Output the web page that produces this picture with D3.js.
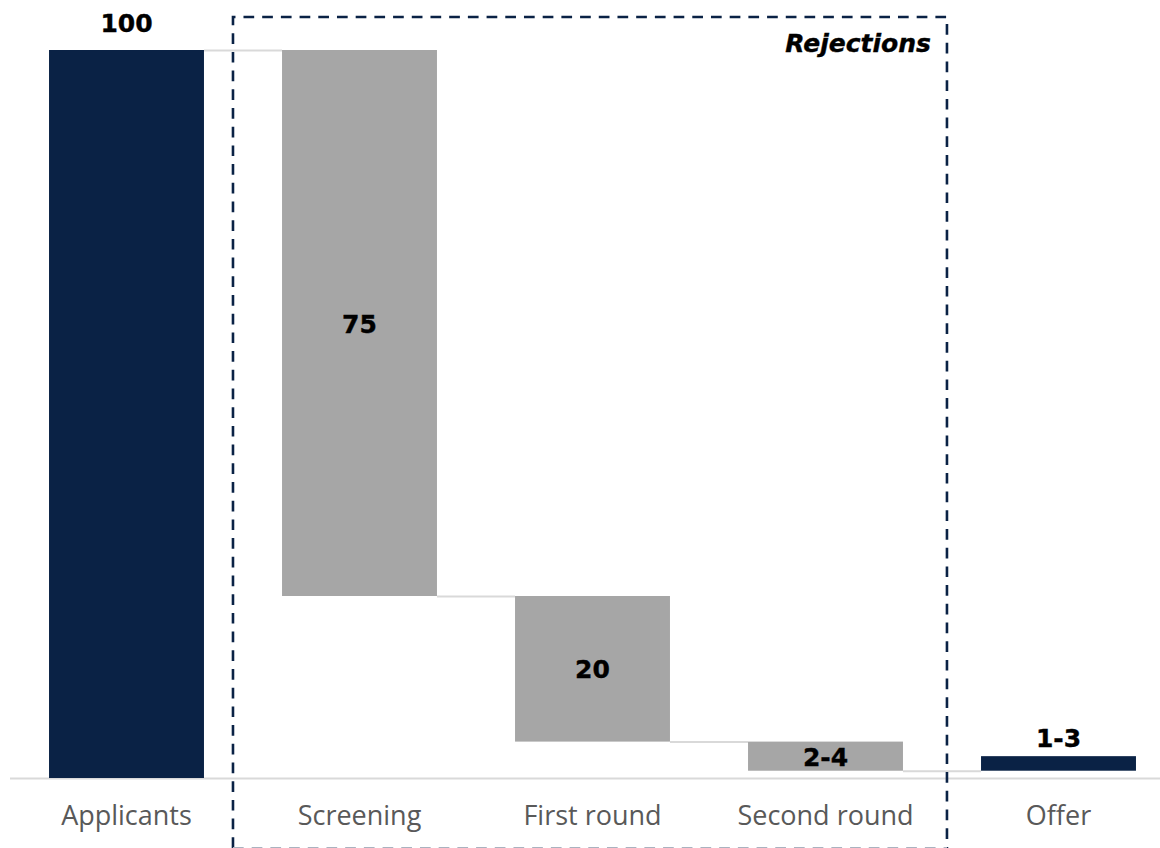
<!DOCTYPE html>
<html>
<head>
<meta charset="utf-8">
<script src="https://cdn.jsdelivr.net/npm/d3@7"></script>
<style>
  html, body { margin: 0; padding: 0; background: #fff; }
  svg { display: block; }
</style>
</head>
<body>
<svg id="chart" width="1160" height="848"></svg>
<script>
// ---- data ----
const categories = ["Applicants", "Screening", "First round", "Second round", "Offer"];
const lows   = [0, 25, 5, 1, 1];
const highs  = [100, 100, 25, 5, 3];
const labels = ["100", "75", "20", "2-4", "1-3"];
const kinds  = ["total", "rejection", "rejection", "rejection", "total"];
const groupTitle = "Rejections";

// ---- layout ----
const W = 1160, H = 848;
const svg = d3.select("#chart");
const navy = "#0a2245", grey = "#a6a6a6", light = "#d9d9d9";

const x = d3.scaleBand().domain(categories).range([10, 1175]).paddingInner(0.335).paddingOuter(0.1675);
const y = d3.scaleLinear().domain([0, 100]).range([778, 50]);

const data = categories.map((c, i) => ({ c, lo: lows[i], hi: highs[i], label: labels[i], kind: kinds[i] }));

// baseline axis
svg.append("line")
  .attr("x1", 10).attr("x2", W)
  .attr("y1", y(0) + 0.5).attr("y2", y(0) + 0.5)
  .attr("stroke", light).attr("stroke-width", 2);

// connectors
data.slice(0, -1).forEach((d, i) => {
  const lvl = d.kind === "rejection" ? d.lo : d.hi;
  svg.append("line")
    .attr("x1", x(d.c) + x.bandwidth()).attr("x2", x(categories[i + 1]))
    .attr("y1", y(lvl) + 0.5).attr("y2", y(lvl) + 0.5)
    .attr("stroke", light).attr("stroke-width", 2);
});

// bars
svg.selectAll("rect.bar").data(data).join("rect")
  .attr("class", "bar")
  .attr("x", d => x(d.c))
  .attr("width", x.bandwidth())
  .attr("y", d => y(d.hi))
  .attr("height", d => y(d.lo) - y(d.hi))
  .attr("fill", d => d.kind === "total" ? navy : grey);

// value labels
const numFont = "'DejaVu Sans', Verdana, sans-serif";
svg.selectAll("text.val").data(data).join("text")
  .attr("class", "val")
  .attr("x", d => x(d.c) + x.bandwidth() / 2)
  .attr("y", d => {
    if (d.kind === "total") return y(d.hi) - (d.hi > 50 ? 18 : 9);
    return (y(d.hi) + y(d.lo)) / 2 + 1;
  })
  .attr("dominant-baseline", d => d.kind === "total" ? "auto" : "central")
  .attr("text-anchor", "middle")
  .attr("font-family", numFont)
  .attr("font-weight", "bold")
  .attr("font-size", 25)
  .attr("fill", "#000")
  .attr("stroke", "#000").attr("stroke-width", 0.4)
  .text(d => d.label);

// category labels
svg.selectAll("text.cat").data(categories).join("text")
  .attr("class", "cat")
  .attr("x", d => x(d) + x.bandwidth() / 2)
  .attr("y", 825)
  .attr("text-anchor", "middle")
  .attr("font-family", "'Open Sans', 'Noto Sans', sans-serif")
  .attr("font-size", 27)
  .attr("fill", "#595959")
  .text(d => d);

// rejections group box
const rej = data.filter(d => d.kind === "rejection");
const bx0 = x(rej[0].c) - x.step() * 0.2105;
const bx1 = x(rej[rej.length - 1].c) + x.bandwidth() + x.step() * 0.1888;
const by0 = 17, by1 = 847;
svg.append("path")
  .attr("d", `M${bx0},${H} L${bx0},${by0} L${bx1},${by0} L${bx1},${H}`)
  .attr("fill", "none")
  .attr("stroke", navy).attr("stroke-width", 2.6)
  .attr("stroke-dasharray", "10.7,8");
svg.append("line")
  .attr("x1", bx0).attr("x2", bx1)
  .attr("y1", by1 + 0.5).attr("y2", by1 + 0.5)
  .attr("stroke", "#aab2bf").attr("stroke-width", 1)
  .attr("stroke-dasharray", "10.7,8");

svg.append("text")
  .attr("x", bx1 - 16)
  .attr("y", 52)
  .attr("text-anchor", "end")
  .attr("font-family", numFont)
  .attr("font-weight", "bold")
  .attr("font-style", "italic")
  .attr("font-size", 25)
  .attr("fill", "#000")
  .attr("stroke", "#000").attr("stroke-width", 0.4)
  .text(groupTitle);
</script>
</body>
</html>
